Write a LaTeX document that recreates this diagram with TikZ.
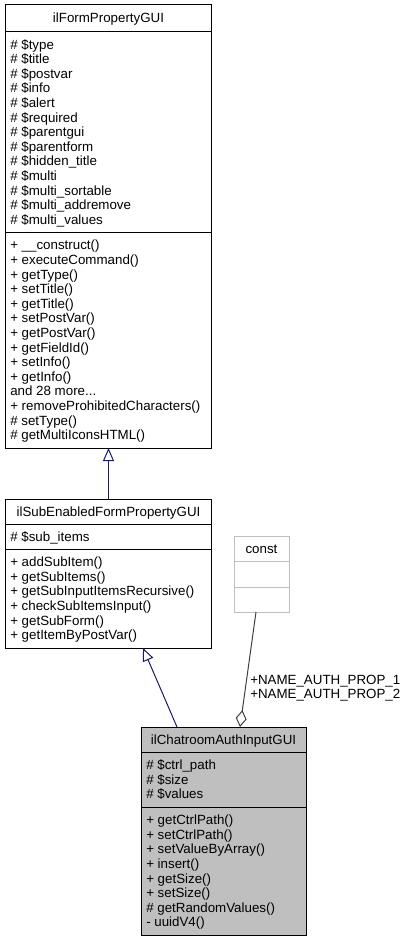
\documentclass[tikz,border=0pt]{standalone}
\usepackage{fontspec}
\setmainfont{Liberation Sans}
\usetikzlibrary{arrows.meta}
\definecolor{inhblue}{HTML}{191970}
\definecolor{boxgray}{HTML}{BFBFBF}
\definecolor{aggline}{HTML}{404040}
\newcommand{\threedots}{...}
\begin{document}
\begin{tikzpicture}[x=0.75pt,y=-0.75pt,
  box/.style={draw=black,line width=0.75pt,inner sep=0,outer sep=0,anchor=north west,fill=white},
  txt/.style={anchor=base west,inner sep=0,font=\fontsize{10pt}{12pt}\selectfont},
  ttl/.style={anchor=base,inner sep=0,font=\fontsize{10pt}{12pt}\selectfont},
  sep/.style={draw=black,line width=0.75pt},
  inh/.style={draw=inhblue,line width=0.75pt,-{Triangle[open,length=9.75pt,width=8.25pt]}},
  agg/.style={draw=aggline,line width=0.75pt,-{Diamond[open,length=12.75pt,width=8.25pt]}}]
\useasboundingbox (0,0) rectangle (406,941);
% ---- box 1
\node[box,minimum width=154.5pt,minimum height=332.25pt] (b1) at (5.5,5) {};
\draw[sep] (5.5,32) -- (211.5,32);
\draw[sep] (5.5,232) -- (211.5,232);
\node[ttl] (b1t) at (108.5,23) {ilFormPropertyGUI};
\foreach \t [count=\i from 0] in {\# \$type,\# \$title,\# \$postvar,\# \$info,\# \$alert,\# \$required,\# \$parentgui,\# \$parentform,\# \$hidden\_title,\# \$multi,\# \$multi\_sortable,\# \$multi\_addremove,\# \$multi\_values}
  \node[txt] (b1a\i) at (10,{44.4+\i*14.6+4.7}) {\t};
\foreach \t [count=\i from 0] in {+ \_\_construct(),+ executeCommand(),+ getType(),+ setTitle(),+ getTitle(),+ setPostVar(),+ getPostVar(),+ getFieldId(),+ setInfo(),+ getInfo(),{and 28 more\threedots},+ removeProhibitedCharacters(),\# setType(),\# getMultiIconsHTML()}
  \node[txt] (b1m\i) at (10,{245.1+\i*14.6+4.7}) {\t};
% ---- box 2
\node[box,minimum width=154.5pt,minimum height=111.75pt] (b2) at (5.5,499) {};
\draw[sep] (5.5,524) -- (211.5,524);
\draw[sep] (5.5,549) -- (211.5,549);
\node[ttl] (b2t) at (108.5,516) {ilSubEnabledFormPropertyGUI};
\node[txt] (b2a0) at (10,541.2) {\# \$sub\_items};
\foreach \t [count=\i from 0] in {+ addSubItem(),+ getSubItems(),+ getSubInputItemsRecursive(),+ checkSubItemsInput(),+ getSubForm(),+ getItemByPostVar()}
  \node[txt] (b2m\i) at (10,{562+\i*14.6+4.7}) {\t};
% ---- const box
\node[box,draw=boxgray,minimum width=41.25pt,minimum height=57pt] (b4) at (234,536) {};
\draw[sep,draw=boxgray] (234,561) -- (289,561);
\draw[sep,draw=boxgray] (234,587) -- (289,587);
\node[ttl] (b4t) at (261.5,553) {const};
% ---- box 3
\node[box,fill=boxgray,minimum width=123.75pt,minimum height=156pt] (b3) at (141,727) {};
\draw[sep] (141,752) -- (306,752);
\draw[sep] (141,807) -- (306,807);
\node[ttl] (b3t) at (223.5,744) {ilChatroomAuthInputGUI};
\foreach \t [count=\i from 0] in {\# \$ctrl\_path,\# \$size,\# \$values}
  \node[txt] (b3a\i) at (146,{765+\i*14.6+4.7}) {\t};
\foreach \t [count=\i from 0] in {+ getCtrlPath(),+ setCtrlPath(),+ setValueByArray(),+ insert(),+ getSize(),+ setSize(),\# getRandomValues(),- uuidV4()}
  \node[txt] (b3m\i) at (146,{820+\i*14.6+4.7}) {\t};
% ---- connectors
\draw[inh] (b2.north) -- (b1.south);
\coordinate (i2s) at (177,727);
\coordinate (i2e) at (143,648);
\draw[inh] (i2s) -- (i2e);
\coordinate (ags) at (256,612);
\coordinate (age) at (240,727);
\draw[agg] (ags) -- (age);
\node[txt] (l1) at (250,684.5) {+NAME\_AUTH\_PROP\_1};
\node[txt] (l2) at (250,698) {+NAME\_AUTH\_PROP\_2};
\end{tikzpicture}
\end{document}
